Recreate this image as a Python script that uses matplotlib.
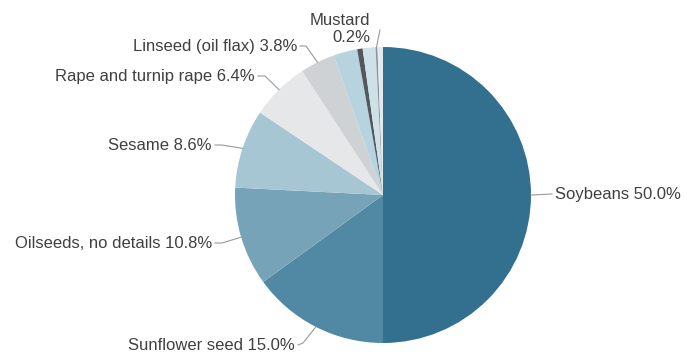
import numpy as np
import matplotlib.pyplot as plt

plt.rcParams['font.family'] = ['Liberation Sans', 'DejaVu Sans']

# Slices, clockwise from 12 o'clock
categories = ['Soybeans', 'Sunflower seed', 'Oilseeds, no details', 'Sesame',
              'Rape and turnip rape', 'Linseed (oil flax)', 'Other a', 'Other b',
              'Other c', 'Mustard', 'Other d']
shares = [50.0, 15.0, 10.8, 8.6, 6.4, 3.8, 2.6, 0.6, 1.4, 0.2, 0.6]
show_label = [True, True, True, True, True, True, False, False, False, True, False]
colors = ['#33708f', '#5189a5', '#77a3b9', '#a6c6d4', '#e6e7e9', '#cfd2d5',
          '#b6d3df', '#54585c', '#cfe1e8', '#8b8f93', '#e3eaed']

W, H = 687, 354
cx, cy, r = 383, H - 195, 148

fig = plt.figure(figsize=(6.87, 3.54), dpi=100)
ax = fig.add_axes([0, 0, 1, 1])
wedges, _ = ax.pie(shares, colors=colors, startangle=90, counterclock=False,
                   center=(cx, cy), radius=r, wedgeprops=dict(linewidth=0))
ax.set_xlim(0, W)
ax.set_ylim(0, H)
ax.set_aspect('equal')
ax.axis('off')

# label placement: (text x, text y in image px, horizontal alignment, elbow points)
layout = {
    'Soybeans': (555, 194, 'left', [(552, 194)]),
    'Sunflower seed': (295, 345, 'right', [(298, 345), (303, 343)]),
    'Oilseeds, no details': (212, 243, 'right', [(215, 243), (222, 243)]),
    'Sesame': (212, 145, 'right', [(215, 145), (222, 145)]),
    'Rape and turnip rape': (255, 76, 'right', [(258, 76), (265, 76)]),
    'Linseed (oil flax)': (297, 47, 'right', [(300, 46), (306, 46)]),
    'Mustard': (370, 29, 'right', [(380, 30)]),
}

txt = '#404040'
line_c = '#9a9a9a'
for name, share, w, show in zip(categories, shares, wedges, show_label):
    if not show:
        continue
    mid = np.deg2rad((w.theta1 + w.theta2) / 2)
    ex, ey = cx + r * np.cos(mid), cy + r * np.sin(mid)
    tx, ty, ha, pts = layout[name]
    xs = [p[0] for p in pts] + [ex]
    ys = [H - p[1] for p in pts] + [ey]
    ax.plot(xs, ys, color=line_c, lw=0.8)
    if name == 'Mustard':
        label = f'{name}\n{share:.1f}%'
        ax.text(tx, H - ty, label, ha='right', va='center', fontsize=12,
                color=txt, linespacing=1.2, multialignment='right')
    else:
        ax.text(tx, H - ty, f'{name} {share:.1f}%', ha=ha, va='center',
                fontsize=12, color=txt)

fig.savefig('out.png', dpi=100)
